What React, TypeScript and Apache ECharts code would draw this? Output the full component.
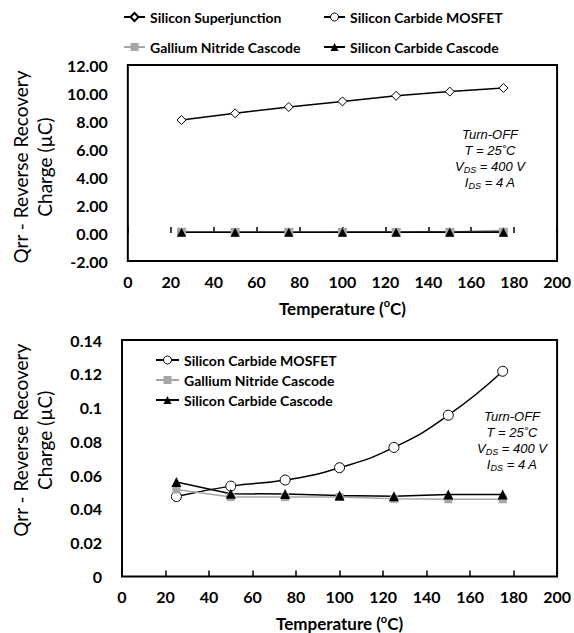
import { useEffect, useRef } from 'react';
import * as echarts from 'echarts';

// Junction temperature (°C) at which Qrr was measured
const temperatures = [25, 50, 75, 100, 125, 150, 175];

// Reverse recovery charge Qrr (µC)
const siSuperjunction = [8.07, 8.55, 9.0, 9.4, 9.8, 10.1, 10.36];
const sicMosfet = [0.0473, 0.0535, 0.0571, 0.0644, 0.0764, 0.0955, 0.1215];
const ganCascode = [0.0515, 0.047, 0.047, 0.047, 0.046, 0.0457, 0.0457];
const sicCascode = [0.056, 0.049, 0.0488, 0.048, 0.0475, 0.0485, 0.0485];

const seriesNames = [
  'Silicon Superjunction',
  'Silicon Carbide MOSFET',
  'Gallium Nitride Cascode',
  'Silicon Carbide Cascode',
];

// Test-condition note shown inside both plots
const noteLines = [
  '{i|Turn-OFF}',
  '{i|T = 25˚C}',
  '{i|V}{s|DS}{i| = 400 V}',
  '{i|I}{s|DS}{i| = 4 A}',
];

const yTitle = 'Qrr - Reverse Recovery\nCharge (µC)';
const xTitle = '{a|Temperature (}{s|o}{a|C)}';

const FONT = 'Lato, sans-serif';
const NOTE_FONT = '"Liberation Sans", Arial, sans-serif';
const GRAY = '#a6a6a6';

const pairs = (vals: number[]) => temperatures.map((t, i) => [t, vals[i]]);

const styles: Record<string, any> = {
  [seriesNames[0]]: {
    symbol: 'diamond',
    itemStyle: { color: '#fff', borderColor: '#000', borderWidth: 1 },
    lineStyle: { color: '#000', width: 1.5 },
  },
  [seriesNames[1]]: {
    symbol: 'circle',
    smooth: true,
    itemStyle: { color: '#fff', borderColor: '#000', borderWidth: 1 },
    lineStyle: { color: '#000', width: 1.5 },
  },
  [seriesNames[2]]: {
    symbol: 'rect',
    itemStyle: { color: GRAY },
    lineStyle: { color: GRAY, width: 1.5 },
  },
  [seriesNames[3]]: {
    symbol: 'triangle',
    itemStyle: { color: '#000' },
    lineStyle: { color: '#000', width: 1.5 },
  },
};

// marker sizes for the upper (µC up to 12) and lower (µC up to 0.14) plots
const symbolSizes: Record<string, number[]> = {
  [seriesNames[0]]: [9, 9],
  [seriesNames[1]]: [7, 10],
  [seriesNames[2]]: [9, 8],
  [seriesNames[3]]: [9, 10],
};

function lineSeries(name: string, values: number[], gridIndex: number) {
  const extra =
    gridIndex === 0 && name === seriesNames[1]
      ? { itemStyle: { color: '#fff', borderColor: GRAY, borderWidth: 1 } }
      : {};
  return {
    type: 'line',
    name,
    xAxisIndex: gridIndex,
    yAxisIndex: gridIndex,
    data: pairs(values),
    symbolSize: symbolSizes[name][gridIndex],
    showSymbol: true,
    ...styles[name],
    ...extra,
  };
}

const legendText = {
  fontFamily: FONT,
  fontWeight: 'bold',
  fontSize: 14,
  lineHeight: 16,
  color: '#000',
};

// legend entries; the MOSFET icon keeps a black outline in both legends
const legendItem = (name: string) =>
  name === seriesNames[1]
    ? { name, itemStyle: { color: '#fff', borderColor: '#000', borderWidth: 1 } }
    : { name };

function legendAt(names: string[], left: number, top: number, extra: any = {}) {
  return {
    data: names.map(legendItem),
    left,
    top,
    padding: 0,
    itemWidth: 21,
    itemHeight: 10,
    itemGap: 4,
    selectedMode: false,
    textStyle: legendText,
    ...extra,
  };
}

function xAxisFor(gridIndex: number) {
  return {
    type: 'value',
    gridIndex,
    min: 0,
    max: 200,
    interval: 20,
    axisLine: { show: false },
    axisTick: { show: true, inside: true, length: 6, lineStyle: { color: '#000', width: 1.5 } },
    splitLine: { show: false },
    axisLabel: { color: '#000', fontFamily: FONT, fontWeight: 'bold', fontSize: 16, margin: 12 },
    name: xTitle,
    nameLocation: 'middle',
    nameGap: 36,
    nameTextStyle: {
      rich: {
        a: { fontFamily: FONT, fontWeight: 'bold', fontSize: 17, color: '#000', lineHeight: 22 },
        s: { fontFamily: FONT, fontWeight: 'bold', fontSize: 11, color: '#000', lineHeight: 13, verticalAlign: 'top' },
      },
    },
  };
}

function yAxisFor(gridIndex: number, min: number, max: number, interval: number, fmt: (v: number) => string, padding: number[]) {
  return {
    type: 'value',
    gridIndex,
    min,
    max,
    interval,
    axisLine: { show: false },
    axisTick: { show: false },
    splitLine: { show: false },
    axisLabel: { color: '#000', fontFamily: FONT, fontWeight: 'bold', fontSize: 16, margin: 20, formatter: fmt },
    name: yTitle,
    nameLocation: 'middle',
    nameRotate: 90,
    nameGap: 66,
    nameTextStyle: { fontFamily: FONT, fontSize: 19, color: '#000', lineHeight: 24, padding },
  };
}

function note(x: number, y: number) {
  return {
    type: 'group',
    x,
    y,
    children: noteLines.map((line, i) => ({
      type: 'text',
      x: 0,
      y: i * 16,
      style: {
        text: line,
        align: 'center',
        verticalAlign: 'middle',
        fill: '#000',
        rich: {
          i: { fontFamily: NOTE_FONT, fontStyle: 'italic', fontSize: 13, lineHeight: 16, fill: '#000' },
          s: { fontFamily: NOTE_FONT, fontStyle: 'italic', fontSize: 9, lineHeight: 9, verticalAlign: 'bottom', fill: '#000' },
        },
      },
    })),
  };
}

export default function App() {
  const ref = useRef<HTMLDivElement>(null);

  useEffect(() => {
    if (!ref.current) return;
    const chart = echarts.init(ref.current, undefined, { renderer: 'svg' });

    const gridBox = { show: true, borderColor: '#000', borderWidth: 2, backgroundColor: 'transparent' };

    chart.setOption({
      animation: false,
      backgroundColor: '#fff',
      grid: [
        { left: 122, top: 65, width: 437, height: 196, ...gridBox },
        { left: 122, top: 340, width: 438, height: 238, ...gridBox },
      ],
      legend: [
        legendAt([seriesNames[0]], 123, 9),
        legendAt([seriesNames[1]], 323, 9),
        legendAt([seriesNames[2]], 123, 39),
        legendAt([seriesNames[3]], 323, 39),
        legendAt([seriesNames[1], seriesNames[2], seriesNames[3]], 155, 352, {
          orient: 'vertical',
          itemWidth: 23,
        }),
      ],
      xAxis: [xAxisFor(0), xAxisFor(1)],
      yAxis: [
        yAxisFor(0, -2, 12, 2, (v: number) => v.toFixed(2), [0, 8, 0, 0]),
        yAxisFor(1, 0, 0.14, 0.02, (v: number) => String(Number(v.toFixed(2))), [0, 0, 0, 36]),
      ],
      series: [
        lineSeries(seriesNames[0], siSuperjunction, 0),
        lineSeries(seriesNames[1], sicMosfet, 0),
        lineSeries(seriesNames[2], ganCascode, 0),
        lineSeries(seriesNames[3], sicCascode, 0),
        lineSeries(seriesNames[1], sicMosfet, 1),
        lineSeries(seriesNames[2], ganCascode, 1),
        lineSeries(seriesNames[3], sicCascode, 1),
      ],
      graphic: [note(490, 134), note(512, 416)],
    });

    return () => chart.dispose();
  }, []);

  return (
    <div
      ref={ref}
      style={{ position: 'fixed', left: 0, top: 0, width: 574, height: 633, background: '#fff' }}
    />
  );
}
